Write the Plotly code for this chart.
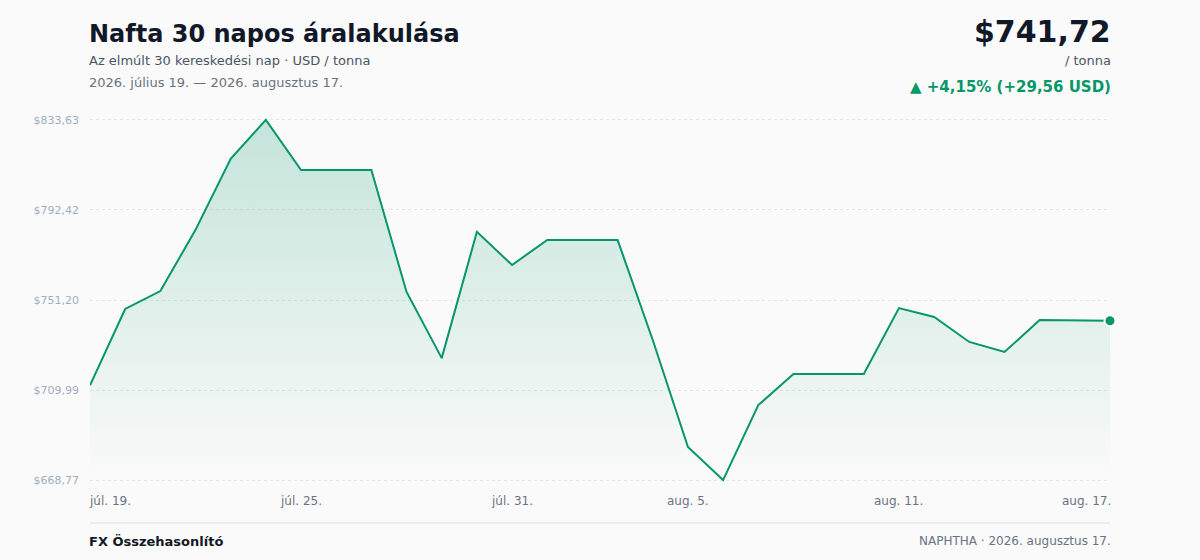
import plotly.graph_objects as go

# napi záróárak (USD / tonna), 2026-07-19 .. 2026-08-17
dates = ["2026-07-19", "2026-07-20", "2026-07-21", "2026-07-22", "2026-07-23",
         "2026-07-24", "2026-07-25", "2026-07-26", "2026-07-27", "2026-07-28",
         "2026-07-29", "2026-07-30", "2026-07-31", "2026-08-01", "2026-08-02",
         "2026-08-03", "2026-08-04", "2026-08-05", "2026-08-06", "2026-08-07",
         "2026-08-08", "2026-08-09", "2026-08-10", "2026-08-11", "2026-08-12",
         "2026-08-13", "2026-08-14", "2026-08-15", "2026-08-16", "2026-08-17"]
prices = [712.16, 747.1, 755.3, 783.3, 815.8,
          833.63, 810.7, 810.7, 810.7, 754.9,
          724.6, 782.4, 767.2, 778.7, 778.7,
          778.7, 732.9, 683.9, 668.77, 703.1,
          717.3, 717.3, 717.3, 747.5, 743.4,
          732.0, 727.4, 742.0, 742.0, 741.72]

ytick_vals = [668.77, 709.99, 751.20, 792.42, 833.63]
ytick_text = ["$668,77", "$709,99", "$751,20", "$792,42", "$833,63"]
xtick_dates = ["2026-07-19", "2026-07-25", "2026-07-31", "2026-08-05", "2026-08-11", "2026-08-17"]
xtick_text = ["júl. 19.", "júl. 25.", "júl. 31.", "aug. 5.", "aug. 11.", "aug. 17."]

GREEN = "#059669"
FONT = "DejaVu Sans"
W, H = 1200, 560
ML, MR, MT, MB = 90, 90, 118, 78
PW, PH = W - ML - MR, H - MT - MB


def px(x, y):
    # képpont (bal felső sarokból) -> papír koordináta
    return (x - ML) / PW, (H - y - MB) / PH


fig = go.Figure()
fig.add_trace(go.Scatter(
    x=dates, y=prices, mode="lines",
    line=dict(color=GREEN, width=2),
    fill="tozeroy",
    fillgradient=dict(type="vertical",
                      colorscale=[[0, "rgba(5,150,105,0.0)"], [1, "rgba(5,150,105,0.22)"]],
                      start=668.77, stop=833.63),
    hoverinfo="skip", cliponaxis=False,
))
# utolsó pont kiemelése
fig.add_trace(go.Scatter(
    x=[dates[-1]], y=[prices[-1]], mode="markers",
    marker=dict(color=GREEN, size=11, line=dict(color="white", width=2)),
    hoverinfo="skip", cliponaxis=False,
))

fig.update_layout(
    width=W, height=H,
    margin=dict(l=ML, r=MR, t=MT, b=MB),
    paper_bgcolor="#fafafa", plot_bgcolor="#fafafa",
    showlegend=False,
    font=dict(family=FONT),
    xaxis=dict(type="date", range=[dates[0], dates[-1]], showgrid=False,
               showticklabels=False, zeroline=False, showline=False),
    # a tartomány picit szélesebb, hogy a szélső rácsvonalak is látszódjanak
    yaxis=dict(range=[667.9, 834.5], tickvals=ytick_vals, ticktext=ytick_text,
               showgrid=True, gridcolor="#e3e6ea", griddash="dot", gridwidth=1,
               zeroline=False, showline=False, ticks="", ticklabelstandoff=10,
               tickfont=dict(size=11, color="#a0aec0", family=FONT)),
)

# x tengely feliratai
for i, (d, t) in enumerate(zip(xtick_dates, xtick_text)):
    anchor = "left" if i == 0 else ("right" if i == len(xtick_dates) - 1 else "center")
    fig.add_annotation(x=d, y=px(0, 501)[1], xref="x", yref="paper", text=t, showarrow=False,
                       xanchor=anchor, yanchor="middle",
                       font=dict(size=12, color="#6b7280", family=FONT))

texts = [
    (90, 34, "left", "<b>Nafta 30 napos áralakulása</b>", 24, "#111827"),
    (90, 61, "left", "Az elmúlt 30 kereskedési nap · USD / tonna", 13, "#4b5563"),
    (90, 83, "left", "2026. július 19. — 2026. augusztus 17.", 13, "#6b7280"),
    (1110, 32, "right", "<b>$741,72</b>", 30, "#111827"),
    (1110, 61, "right", "/ tonna", 13, "#4b5563"),
    (1110, 87, "right", "<b>▲ +4,15% (+29,56 USD)</b>", 15, GREEN),
    (90, 541, "left", "<b>FX Összehasonlító</b>", 13, "#111827"),
    (1110, 541, "right", "NAPHTHA · 2026. augusztus 17.", 12, "#6b7280"),
]
for x, y, anchor, t, size, color in texts:
    xp, yp = px(x, y)
    fig.add_annotation(x=xp, y=yp, xref="paper", yref="paper", text=t, showarrow=False,
                       xanchor=anchor, yanchor="middle",
                       font=dict(size=size, color=color, family=FONT))

# az annotációk belső margóját kompenzáljuk
for a in fig.layout.annotations:
    if a.xanchor == "left":
        a.xshift = -3
    elif a.xanchor == "right":
        a.xshift = 3

# lábléc elválasztó vonal
fig.add_shape(type="line", xref="paper", yref="paper",
              x0=0, x1=1, y0=px(0, 523)[1], y1=px(0, 523)[1],
              line=dict(color="#e5e7eb", width=1.5))

fig.write_html("out.html", config={"displayModeBar": False},
               post_script="document.body.style.margin='0';document.body.style.background='#fafafa';")
